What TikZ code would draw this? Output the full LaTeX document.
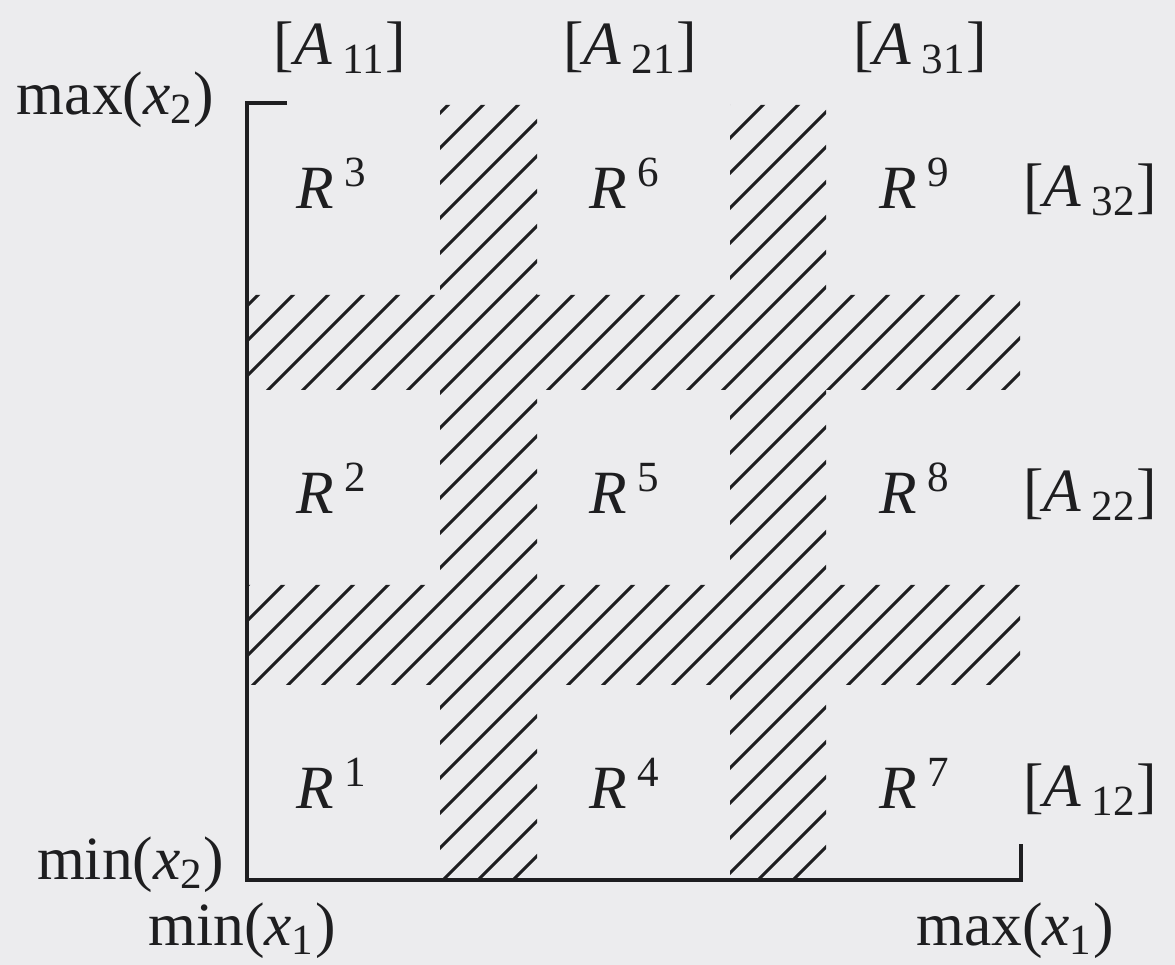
\documentclass[tikz,border=0pt]{standalone}
\usepackage{fontspec}
\setmainfont{Liberation Serif}
\usetikzlibrary{calc}

\definecolor{paper}{RGB}{236,236,238}
\definecolor{ink}{RGB}{30,30,32}

\begin{document}
\begin{tikzpicture}[lbl/.style={font=\fontsize{17.5}{20}\selectfont, text=ink, inner sep=0pt},
    hatch/.style={ink, line width=0.85pt},
    axis/.style={ink, line width=1.3pt}]

    \fill[paper] (-2.47,-0.85) rectangle (9.28,8.80);
    \useasboundingbox (-2.47,-0.85) rectangle (9.28,8.80);

    \coordinate (O) at (0, 0);
    \coordinate (T) at (0, 7.77);
    \coordinate (E) at (7.74, 0);

    % hatched bands
    \begin{scope}
    \clip (1.93, 0) rectangle (2.90, 7.75)
          (4.83, 0) rectangle (5.79, 7.75)
          (0, 1.95) rectangle (7.73, 2.95)
          (0, 4.90) rectangle (7.73, 5.85);
    \foreach \k in {0,...,46}
        \draw[hatch] ({-7.84+0.35*\k}, 0) -- ++(8, 8);
    \end{scope}

    \draw[axis] ($(T)+(0.40,0)$) -- (T) -- (O) -- (E) -- ++(0, 0.36);

    \node[lbl, anchor=east] (maxy) at (-0.32, 7.80) {max(\textit{x}\textsubscript{2})};
    \node[lbl, anchor=east] (miny) at (-0.22, 0.15) {min(\textit{x}\textsubscript{2})};
    \node[lbl] (minx) at (-0.05, -0.51) {min(\textit{x}\textsubscript{1})};
    \node[lbl] (maxx) at (7.68, -0.51) {max(\textit{x}\textsubscript{1})};

    \node[lbl] (A11) at (0.93, 8.32) {[\textit{A}\,\textsubscript{11}]};
    \node[lbl] (A21) at (3.83, 8.32) {[\textit{A}\,\textsubscript{21}]};
    \node[lbl] (A31) at (6.73, 8.32) {[\textit{A}\,\textsubscript{31}]};
    \node[lbl] (A32) at (8.43, 6.90) {[\textit{A}\,\textsubscript{32}]};
    \node[lbl] (A22) at (8.43, 3.85) {[\textit{A}\,\textsubscript{22}]};
    \node[lbl] (A12) at (8.43, 0.90) {[\textit{A}\,\textsubscript{12}]};

    \foreach \i/\x in {0/0.85, 1/3.78, 2/6.68} {
        \pgfmathtruncatemacro{\na}{3*\i+1}
        \pgfmathtruncatemacro{\nb}{3*\i+2}
        \pgfmathtruncatemacro{\nc}{3*\i+3}
        \node[lbl] (R\na) at (\x, 0.97) {\textit{R}\hspace{3pt}\textsuperscript{\na}};
        \node[lbl] (R\nb) at (\x, 3.92) {\textit{R}\hspace{3pt}\textsuperscript{\nb}};
        \node[lbl] (R\nc) at (\x, 6.97) {\textit{R}\hspace{3pt}\textsuperscript{\nc}};
    }

\end{tikzpicture}
\end{document}
